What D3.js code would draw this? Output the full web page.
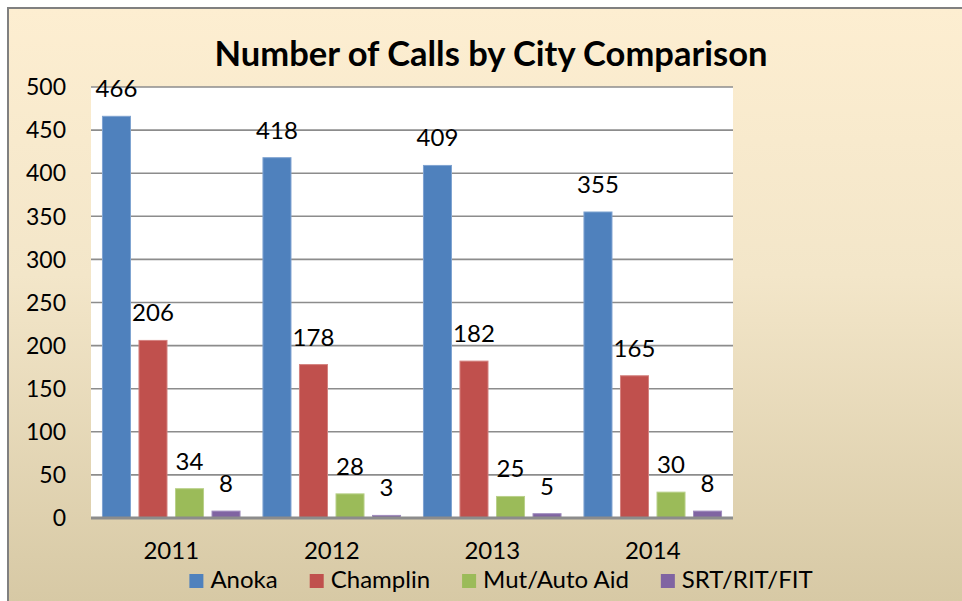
<!DOCTYPE html>
<html><head><meta charset="utf-8">
<script src="https://cdn.jsdelivr.net/npm/d3@7"></script>
<style>html,body{margin:0;padding:0;background:#fff;overflow:hidden}svg{display:block}</style>
</head><body>
<svg id="c" width="962" height="601"></svg>
<script>
const years = ["2011","2012","2013","2014"];
const seriesNames = ["Anoka","Champlin","Mut/Auto Aid","SRT/RIT/FIT"];
const anoka = [466,418,409,355];
const champlin = [206,178,182,165];
const mutAid = [34,28,25,30];
const srt = [8,3,5,8];
const yTicks = [0,50,100,150,200,250,300,350,400,450,500];
const colors = ["#4F81BD","#C0504D","#9BBB59","#8064A2"];
const strokes = ["#7FA3D1","#D4827F","#B9D08A","#A08DBE"];
const seriesValues = [anoka, champlin, mutAid, srt];

const svg = d3.select("#c");
const font = "Lato, 'Open Sans', sans-serif";

const defs = svg.append("defs");
const g = defs.append("linearGradient").attr("id","bg").attr("x1",0).attr("y1",0).attr("x2",0).attr("y2",1);
g.append("stop").attr("offset","0%").attr("stop-color","#FDEED1");
g.append("stop").attr("offset","45%").attr("stop-color","#F3E6C9");
g.append("stop").attr("offset","100%").attr("stop-color","#D7C9A5");

svg.append("rect").attr("x",8).attr("y",8).attr("width",954).attr("height",593).attr("fill","url(#bg)");
svg.append("line").attr("x1",7).attr("x2",962).attr("y1",8).attr("y2",8).attr("stroke","#808080").attr("stroke-width",2);
svg.append("line").attr("x1",8).attr("x2",8).attr("y1",7).attr("y2",601).attr("stroke","#808080").attr("stroke-width",2);

const L = 91, R = 733, T = 87, B = 518;
const x0 = d3.scaleBand().domain(years).range([L,R]).padding(0);
const x1 = d3.scaleBand().domain(seriesNames).range([0,x0.bandwidth()]).paddingInner(0.205).paddingOuter(0.3);
const y = d3.scaleLinear().domain([0,500]).range([B,T]);

svg.append("rect").attr("x",L).attr("y",T).attr("width",R-L).attr("height",B-T).attr("fill","#fff");

svg.append("g").selectAll("line").data(yTicks.filter(d=>d>0)).join("line")
  .attr("x1",L).attr("x2",R).attr("y1",d=>y(d)).attr("y2",d=>y(d))
  .attr("stroke","#8C8C8C").attr("stroke-width",1.6);

svg.append("g").selectAll("text").data(yTicks).join("text")
  .attr("x",66).attr("y",d=>y(d)).attr("dy","0.36em").attr("text-anchor","end")
  .attr("font-family",font).attr("font-size",23).attr("fill","#000").text(d=>d);

const groups = svg.append("g").selectAll("g").data(years).join("g")
  .attr("transform",d=>`translate(${x0(d)},0)`);

groups.each(function(yr, i){
  const gg = d3.select(this);
  seriesNames.forEach((s, j) => {
    const v = seriesValues[j][i];
    gg.append("rect").attr("x",x1(s)+0.5).attr("y",y(v)).attr("width",x1.bandwidth()-1).attr("height",B-y(v))
      .attr("fill",colors[j]).attr("stroke",strokes[j]).attr("stroke-width",1);
    gg.append("text").attr("x",x1(s)+x1.bandwidth()/2).attr("y",y(v)-19).attr("text-anchor","middle")
      .attr("font-family",font).attr("font-size",24).attr("fill","#000").text(v);
  });
});

svg.append("line").attr("x1",L).attr("x2",R).attr("y1",B).attr("y2",B).attr("stroke","#8C8C8C").attr("stroke-width",3);

svg.append("g").selectAll("text").data(years).join("text")
  .attr("x",d=>x0(d)+x0.bandwidth()/2).attr("y",559).attr("text-anchor","middle")
  .attr("font-family",font).attr("font-size",24).attr("fill","#000").text(d=>d);

svg.append("text").attr("x",491).attr("y",66).attr("text-anchor","middle")
  .attr("font-family",font).attr("font-weight","bold").attr("font-size",34.5).attr("fill","#000")
  .text("Number of Calls by City Comparison");

// legend
const leg = svg.append("g");
let lx = 0;
seriesNames.forEach((s,j)=>{
  const it = leg.append("g");
  it.append("rect").attr("x",0).attr("y",574).attr("width",14).attr("height",14).attr("fill",colors[j]);
  const t = it.append("text").attr("x",21).attr("y",588).attr("font-family",font).attr("font-size",24).attr("fill","#000").text(s);
  const w = 21 + t.node().getComputedTextLength();
  it.attr("transform",`translate(${lx},0)`);
  lx += w + 32;
});
const totalW = lx - 32;
leg.attr("transform",`translate(${501-totalW/2},0)`);
</script>
</body></html>
